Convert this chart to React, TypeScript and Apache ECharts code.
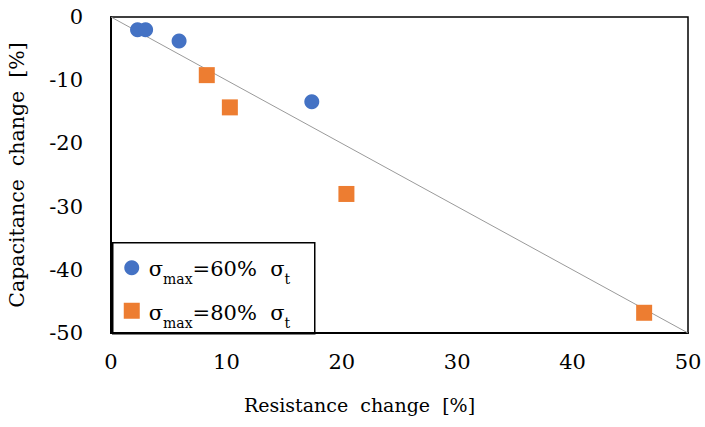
import React, { useEffect, useRef } from "react";
import * as echarts from "echarts";

const seriesNames = ["σmax=60% σt", "σmax=80% σt"];
const resistance60 = [2.3, 3.0, 5.9, 17.4];
const capacitance60 = [-2.0, -2.0, -3.8, -13.4];
const resistance80 = [8.3, 10.3, 20.4, 46.2];
const capacitance80 = [-9.2, -14.3, -28.0, -46.8];
const refLineX = [0, 50];
const refLineY = [0, -50];
const xTicks = [0, 10, 20, 30, 40, 50];
const yTicks = [0, -10, -20, -30, -40, -50];

const FONT = "DejaVu Serif";

export default function App() {
  const ref = useRef<HTMLDivElement>(null);
  useEffect(() => {
    const chart = echarts.init(ref.current!, undefined, { renderer: "svg" });
    const rich = {
      s: { fontFamily: FONT, fontSize: 21, color: "#000", verticalAlign: "bottom", lineHeight: 26 },
      sub: { fontFamily: FONT, fontSize: 14, color: "#000", verticalAlign: "bottom", lineHeight: 18, padding: [0, 0, -6, 0] },
    };
    chart.setOption({
      animation: false,
      textStyle: { fontFamily: FONT },
      grid: {
        left: 111,
        top: 17,
        right: 17,
        bottom: 94,
        show: true,
        borderColor: "#000",
        borderWidth: 1.5,
        outerBoundsMode: "none",
        containLabel: false,
      },
      xAxis: {
        type: "value",
        min: xTicks[0],
        max: xTicks[xTicks.length - 1],
        interval: 10,
        name: "Resistance  change  [%]",
        nameLocation: "middle",
        nameGap: 62,
        nameTextStyle: { fontFamily: FONT, fontSize: 19, color: "#000", padding: [0, 80, 0, 0] },
        axisLine: { show: true, onZero: false, lineStyle: { color: "#000", width: 2 } },
        axisTick: { show: false },
        splitLine: { show: false },
        axisLabel: { fontFamily: FONT, fontSize: 21, color: "#000", margin: 18 },
      },
      yAxis: {
        type: "value",
        min: yTicks[yTicks.length - 1],
        max: yTicks[0],
        interval: 10,
        name: "Capacitance  change  [%]",
        nameLocation: "middle",
        nameGap: 84,
        nameTextStyle: { fontFamily: FONT, fontSize: 20.5, color: "#000" },
        axisLine: { show: true, onZero: false, lineStyle: { color: "#000", width: 2 } },
        axisTick: { show: false },
        splitLine: { show: false },
        axisLabel: { fontFamily: FONT, fontSize: 21, color: "#000", margin: 28 },
      },
      series: [
        {
          type: "line",
          data: refLineX.map((x, i) => [x, refLineY[i]]),
          symbol: "none",
          lineStyle: { color: "#9a9a9a", width: 1 },
          silent: true,
          z: 1,
        },
        {
          name: seriesNames[0],
          type: "scatter",
          data: resistance60.map((x, i) => [x, capacitance60[i]]),
          symbol: "circle",
          symbolSize: 15,
          itemStyle: { color: "#4472C4", opacity: 1 },
          z: 3,
        },
        {
          name: seriesNames[1],
          type: "scatter",
          data: resistance80.map((x, i) => [x, capacitance80[i]]),
          symbol: "rect",
          symbolSize: 16,
          itemStyle: { color: "#ED7D31", opacity: 1 },
          z: 3,
        },
      ],
      graphic: [
        {
          type: "group",
          left: 112,
          top: 242,
          z: 10,
          children: [
            {
              type: "rect",
              shape: { x: 0, y: 0, width: 202, height: 91 },
              style: { fill: "#fff", stroke: "#000", lineWidth: 1.5 },
            },
            {
              type: "circle",
              shape: { cx: 19, cy: 25, r: 7.5 },
              style: { fill: "#4472C4" },
            },
            {
              type: "rect",
              shape: { x: 11, y: 60, width: 16, height: 16 },
              style: { fill: "#ED7D31" },
            },
            {
              type: "text",
              x: 36,
              y: 11,
              style: {
                text: "{s|σ}{sub|max}{s|=60%  σ}{sub|t}",
                rich,
              },
            },
            {
              type: "text",
              x: 36,
              y: 55,
              style: {
                text: "{s|σ}{sub|max}{s|=80%  σ}{sub|t}",
                rich,
              },
            },
          ],
        },
      ],
    });
    return () => chart.dispose();
  }, []);
  return <div ref={ref} style={{ width: 705, height: 427, position: "absolute", left: 0, top: 0 }} />;
}
